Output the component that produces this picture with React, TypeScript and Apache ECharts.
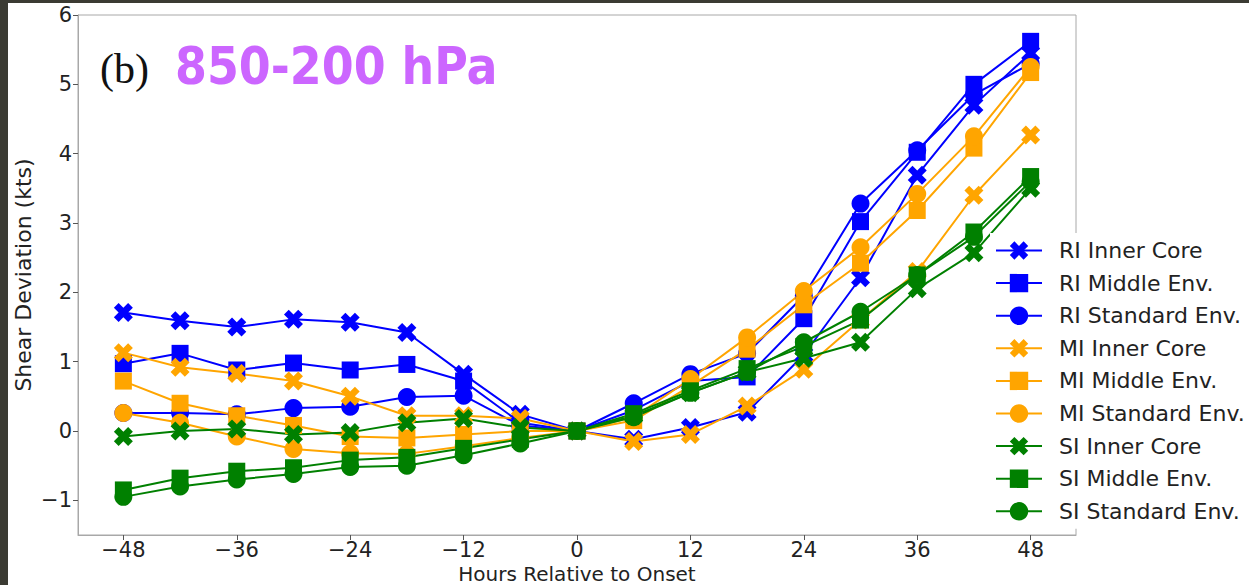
import React, { useEffect, useRef } from "react";
import * as echarts from "echarts";

const hours = [-48, -42, -36, -30, -24, -18, -12, -6, 0, 6, 12, 18, 24, 30, 36, 42, 48];

const riInner = [1.71, 1.59, 1.5, 1.61, 1.57, 1.42, 0.82, 0.24, 0, -0.12, 0.05, 0.27, 1.1, 2.21, 3.69, 4.7, 5.45];
const riMiddle = [0.97, 1.12, 0.88, 0.98, 0.88, 0.96, 0.72, 0.12, 0, 0.3, 0.72, 0.78, 1.62, 3.02, 4.02, 5.0, 5.62];
const riStandard = [0.26, 0.26, 0.24, 0.33, 0.35, 0.49, 0.51, 0.08, 0, 0.4, 0.82, 1.12, 1.95, 3.28, 4.05, 4.85, 5.3];
const miInner = [1.13, 0.92, 0.83, 0.72, 0.5, 0.22, 0.22, 0.18, 0, -0.15, -0.05, 0.36, 0.89, 1.6, 2.3, 3.4, 4.27];
const miMiddle = [0.72, 0.4, 0.22, 0.08, -0.08, -0.1, -0.05, 0.0, 0, 0.15, 0.65, 1.18, 1.82, 2.42, 3.18, 4.08, 5.17];
const miStandard = [0.26, 0.12, -0.08, -0.26, -0.32, -0.33, -0.22, -0.1, 0, 0.2, 0.75, 1.35, 2.02, 2.65, 3.42, 4.25, 5.25];
const siInner = [-0.08, 0.0, 0.03, -0.05, -0.02, 0.12, 0.18, 0.05, 0, 0.22, 0.55, 0.85, 1.05, 1.28, 2.05, 2.57, 3.5];
const siMiddle = [-0.85, -0.68, -0.58, -0.53, -0.42, -0.38, -0.25, -0.12, 0, 0.25, 0.58, 0.9, 1.22, 1.6, 2.25, 2.87, 3.67];
const siStandard = [-0.95, -0.8, -0.7, -0.62, -0.52, -0.5, -0.35, -0.18, 0, 0.2, 0.55, 0.85, 1.28, 1.72, 2.25, 2.8, 3.6];

const xTicks = [-48, -36, -24, -12, 0, 12, 24, 36, 48];
const yTicks = [-1, 0, 1, 2, 3, 4, 5, 6];

const seriesNames = [
  "RI Inner Core", "RI Middle Env.", "RI Standard Env.",
  "MI Inner Core", "MI Middle Env.", "MI Standard Env.",
  "SI Inner Core", "SI Middle Env.", "SI Standard Env.",
];
const seriesValues = [riInner, riMiddle, riStandard, miInner, miMiddle, miStandard, siInner, siMiddle, siStandard];
const groupColors = ["#0000ff", "#ffa500", "#008000"];

const X_MARK = "path://M75,0L100,25L75,50L100,75L75,100L50,75L25,100L0,75L25,50L0,25L25,0L50,25Z";
const markers = [X_MARK, "rect", "circle"];

const fmt = (v: number) => (v < 0 ? "\u2212" + Math.abs(v) : String(v));

export default function App() {
  const ref = useRef<HTMLDivElement>(null);
  useEffect(() => {
    if (!ref.current) return;
    const chart = echarts.init(ref.current, null, { renderer: "svg" });
    const font = "DejaVu Sans";
    const series = seriesNames.map((name, i) => {
      const color = groupColors[Math.floor(i / 3)];
      const sym = markers[i % 3];
      return {
        name,
        type: "line",
        data: hours.map((h, k) => [h, seriesValues[i][k]]),
        symbol: sym,
        symbolSize: sym === "circle" ? 18 : sym === "rect" ? 17 : 19,
        showAllSymbol: true,
        lineStyle: { color, width: 2 },
        itemStyle: { color, borderColor: color, borderWidth: 0 },
        emphasis: { disabled: true },
      };
    });
    chart.setOption({
      animation: false,
      backgroundColor: "#3b3b33",
      textStyle: { fontFamily: font },
      graphic: [
        { type: "rect", z: -100, shape: { x: 8, y: 3, width: 1241, height: 582 }, style: { fill: "#ffffff" } },
        { type: "text", z: 10, x: 100, y: 69, style: { text: "(b)", font: '42px "Liberation Serif"', fill: "#111", verticalAlign: "middle" } },
        { type: "text", z: 10, x: 175, y: 66, style: { text: "850-200 hPa", font: 'bold 51px "DejaVu Sans Condensed"', fill: "#cc66ff", verticalAlign: "middle" } },
      ],
      grid: { left: 78, right: 173, top: 15, bottom: 50, show: true, borderColor: "#a8a8a8", borderWidth: 1, containLabel: false, outerBoundsMode: "none" },
      xAxis: {
        type: "value",
        min: -52.8,
        max: 52.8,
        name: "Hours Relative to Onset",
        nameLocation: "middle",
        nameGap: 29,
        nameMoveOverlap: false,
        nameTextStyle: { fontSize: 20, color: "#222", fontFamily: font, verticalAlign: "top", lineHeight: 20 },
        axisLine: { show: true, onZero: false, lineStyle: { color: "#a8a8a8", width: 1 } },
        axisTick: { show: true, length: 5, customValues: xTicks, lineStyle: { color: "#555" } },
        axisLabel: { customValues: xTicks, formatter: fmt, fontSize: 21, lineHeight: 21, color: "#222", margin: 4, fontFamily: font },
        splitLine: { show: false },
      },
      yAxis: {
        type: "value",
        min: -1.5,
        max: 6,
        name: "Shear Deviation (kts)",
        nameLocation: "middle",
        nameGap: 44,
        nameMoveOverlap: false,
        nameTextStyle: { fontSize: 22, color: "#222", fontFamily: font },
        axisLine: { show: true, onZero: false, lineStyle: { color: "#a8a8a8", width: 1 } },
        axisTick: { show: true, length: 5, customValues: yTicks, lineStyle: { color: "#555" } },
        axisLabel: { customValues: yTicks, formatter: fmt, fontSize: 21, color: "#222", margin: 6, fontFamily: font },
        splitLine: { show: false },
      },
      legend: {
        orient: "vertical",
        left: 990,
        top: 233,
        padding: [6, 6, 6, 5],
        backgroundColor: "#ffffff",
        itemWidth: 46,
        itemHeight: 23,
        itemGap: 9.6,
        data: seriesNames,
        textStyle: { fontSize: 22, color: "#222", fontFamily: font, lineHeight: 23, padding: [0, 0, 0, 12] },
      },
      series,
    });
    return () => chart.dispose();
  }, []);
  return (
    <div style={{ position: "fixed", left: 0, top: 0, width: 1249, height: 585 }}>
      <div ref={ref} style={{ width: 1249, height: 585 }} />
    </div>
  );
}
